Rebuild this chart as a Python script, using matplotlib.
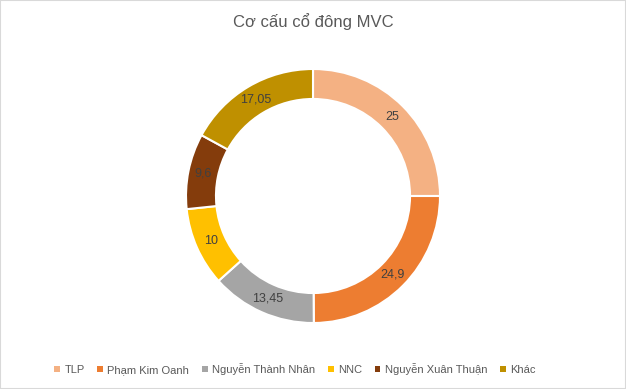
import matplotlib
matplotlib.use("Agg")
import matplotlib.pyplot as plt
from matplotlib.patches import Patch, Rectangle
import numpy as np

categories = ["TLP", "Phạm Kim Oanh", "Nguyễn Thành Nhân", "NNC", "Nguyễn Xuân Thuận", "Khác"]
values = [25, 24.9, 13.45, 10, 9.6, 17.05]
value_labels = ["25", "24,9", "13,45", "10", "9,6", "17,05"]
colors = ["#F4B183", "#ED7D31", "#A5A5A5", "#FFC000", "#843C0C", "#BF9000"]

plt.rcParams['font.family'] = ['Liberation Sans', 'DejaVu Sans']

W, H = 626, 389
fig = plt.figure(figsize=(W/100, H/100), dpi=100)
fig.patches.append(Rectangle((0, 0), 1, 1, transform=fig.transFigure, fill=False,
                             edgecolor="#D9D9D9", linewidth=1.5))

cx, cy, R = 313, 196, 127
ax = fig.add_axes([(cx-R)/W, (H-cy-R)/H, 2*R/W, 2*R/H])
wedges, _ = ax.pie(values, colors=colors, startangle=90, counterclock=False,
                   radius=1, wedgeprops=dict(width=0.236, edgecolor="white", linewidth=1.5))
for w, lab in zip(wedges, value_labels):
    ang = np.deg2rad((w.theta1 + w.theta2) / 2)
    r = 0.882
    ax.text(r*np.cos(ang), r*np.sin(ang), lab, ha="center", va="center",
            fontsize=9, color="#404040")
ax.set_xlim(-1, 1)
ax.set_ylim(-1, 1)
ax.set_aspect("equal")
ax.axis("off")

fig.text(0.5, 1 - 22/H, "Cơ cấu cổ đông MVC", ha="center", va="center",
         fontsize=12, color="#595959")

handles = [Patch(facecolor=c, edgecolor="none") for c in colors]
fig.legend(handles, categories, loc="center", bbox_to_anchor=(295/W, 1 - 369/H), ncol=6,
           frameon=False, fontsize=8, handlelength=0.5, handleheight=0.5,
           handletextpad=0.4, columnspacing=1.15, labelcolor="#595959")

fig.savefig("out.png", dpi=100)
